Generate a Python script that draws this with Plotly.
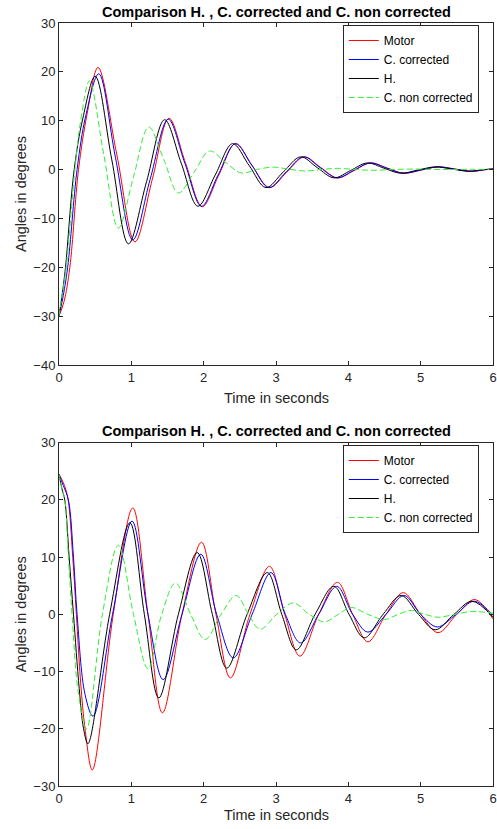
import plotly.graph_objects as go

# ---------------- Top panel data ----------------
top_motor_t = [0, 0.07, 0.15, 0.27, 0.39, 0.54, 0.80, 1.05, 1.29, 1.52, 1.75, 1.98, 2.21, 2.44, 2.67,
               2.91, 3.15, 3.39, 3.62, 3.85, 4.08, 4.31, 4.54, 4.77, 5.01, 5.25, 5.48, 5.71, 5.91, 6.0]
top_motor_y = [-30, -27, -20, 0, 11.5, 20.9, 3, -14.8, -2, 10.5, 1.3, -7.6, -1.1, 5.3, 0.8,
               -3.7, -0.5, 2.6, 0.4, -1.7, -0.2, 1.35, 0.3, -0.75, -0.1, 0.55, 0.1, -0.35, 0, 0.1]

top_corr_t = [0, 0.05, 0.12, 0.25, 0.37, 0.55, 0.78, 1.02, 1.26, 1.51, 1.74, 1.97, 2.20, 2.44, 2.67,
              2.90, 3.14, 3.38, 3.61, 3.84, 4.07, 4.30, 4.53, 4.76, 5.00, 5.24, 5.47, 5.70, 5.90, 6.0]
top_corr_y = [-30, -26.5, -20, 0, 11, 19.6, 2.5, -14.4, -2, 10.3, 1.3, -7.5, -1.1, 5.3, 0.8,
              -3.7, -0.5, 2.6, 0.4, -1.7, -0.2, 1.35, 0.3, -0.75, -0.1, 0.55, 0.1, -0.35, 0, 0.1]

top_h_t = [0, 0.04, 0.09, 0.21, 0.33, 0.50, 0.73, 0.96, 1.21, 1.46, 1.69, 1.92, 2.16, 2.40, 2.63,
           2.86, 3.10, 3.34, 3.57, 3.80, 4.03, 4.26, 4.49, 4.72, 4.96, 5.20, 5.43, 5.66, 5.88, 6.0]
top_h_y = [-30, -26, -20, 0, 10.5, 19.1, 2, -15.2, -2.5, 10.2, 1.3, -7.5, -1.1, 5.3, 0.8,
           -3.7, -0.5, 2.6, 0.4, -1.7, -0.2, 1.35, 0.3, -0.75, -0.1, 0.55, 0.1, -0.35, 0, 0.1]

top_nc_t = [0, 0.05, 0.10, 0.22, 0.30, 0.42, 0.62, 0.82, 1.03, 1.24, 1.45, 1.65, 1.87, 2.08, 2.30,
            2.52, 2.73, 2.95, 3.17, 3.40, 3.62, 3.85, 4.10, 4.35, 4.60, 4.90, 5.30, 5.70, 6.0]
top_nc_y = [-30, -25, -20, 0, 10, 18.1, 3, -12, -1.5, 8.7, 2, -4.8, -0.5, 3.8, 1.5,
            -0.7, 0, 0.5, 0.1, -0.3, 0, 0.25, 0, -0.15, 0, 0.1, 0, 0.05, 0]

# ---------------- Bottom panel data ----------------
bot_motor_t = [0, 0.06, 0.12, 0.19, 0.24, 0.30, 0.36, 0.46, 0.75, 1.02, 1.23, 1.43, 1.70, 1.97, 2.17,
               2.37, 2.64, 2.91, 3.12, 3.33, 3.59, 3.85, 4.06, 4.27, 4.52, 4.76, 5.00, 5.24, 5.50,
               5.75, 6.0]
bot_motor_y = [24.5, 23, 20.5, 10, 0, -12, -20, -27.2, 0, 18.6, 0, -17.2, 0, 12.6, 0,
               -11.1, 0, 8.4, 0, -7.3, 0, 5.6, 0, -4.8, 0, 3.8, 0, -3.2, 0,
               2.6, -0.8]

bot_corr_t = [0, 0.06, 0.13, 0.20, 0.25, 0.36, 0.47, 0.74, 1.01, 1.23, 1.44, 1.70, 1.96, 2.18,
              2.41, 2.67, 2.93, 3.13, 3.34, 3.59, 3.84, 4.06, 4.27, 4.52, 4.77, 5.00, 5.23, 5.49,
              5.74, 6.0]
bot_corr_y = [24.5, 22.5, 20, 10, 0, -14, -17.8, 0, 16.3, 0, -11.4, 0, 10.5, 0,
              -7.6, 0, 7.3, 0, -5.0, 0, 4.9, 0, -3.1, 0, 3.3, 0, -2.2, 0,
              2.3, -0.2]

bot_h_t = [0, 0.04, 0.08, 0.14, 0.20, 0.28, 0.34, 0.40, 0.70, 0.98, 1.18, 1.38, 1.65, 1.91, 2.12,
           2.32, 2.60, 2.88, 3.08, 3.28, 3.54, 3.80, 4.01, 4.22, 4.48, 4.73, 4.97, 5.20, 5.46,
           5.71, 6.0]
bot_h_y = [24.5, 22, 20, 10, 0, -13, -20, -22.6, 0, 16.0, 0, -14.6, 0, 10.8, 0,
           -9.4, 0, 7.3, 0, -6.2, 0, 4.9, 0, -4.1, 0, 3.3, 0, -2.7, 0,
           2.3, -0.5]

bot_nc_t = [0, 0.04, 0.08, 0.13, 0.18, 0.27, 0.38, 0.60, 0.82, 1.03, 1.23, 1.42, 1.61, 1.82, 2.02,
            2.24, 2.45, 2.62, 2.78, 3.01, 3.24, 3.46, 3.67, 3.86, 4.04, 4.27, 4.50, 4.69, 4.87,
            5.06, 5.24, 5.47, 5.70, 6.0]
bot_nc_y = [24.5, 22, 20, 10, 0, -14, -20.0, 0, 12.1, 0, -9.5, 0, 5.5, 0, -4.4,
            0, 3.3, 0, -2.6, 0, 2.0, 0, -1.3, 0, 1.2, 0, -0.9, 0, 0.7,
            0, -0.5, 0, 0.5, 0.2]

series_names = ["Motor", "C. corrected", "H.", "C. non corrected"]
x_ticks = [0, 1, 2, 3, 4, 5, 6]
top_y_ticks = [-40, -30, -20, -10, 0, 10, 20, 30]
bot_y_ticks = [-30, -20, -10, 0, 10, 20, 30]
title_text = "Comparison H. , C. corrected and C. non corrected"
x_label = "Time in seconds"
y_label = "Angles in degrees"

colors = ["#FF0000", "#0000FF", "#000000", "#33EE33"]
dashes = ["solid", "solid", "solid", "6px,3px"]

fig = go.Figure()

top_sets = [(top_motor_t, top_motor_y), (top_corr_t, top_corr_y), (top_h_t, top_h_y), (top_nc_t, top_nc_y)]
bot_sets = [(bot_motor_t, bot_motor_y), (bot_corr_t, bot_corr_y), (bot_h_t, bot_h_y), (bot_nc_t, bot_nc_y)]

for i, (t, y) in enumerate(top_sets):
    fig.add_trace(go.Scatter(x=t, y=y, mode="lines", name=series_names[i],
                             line=dict(color=colors[i], width=1, dash=dashes[i], shape="spline", smoothing=1.0),
                             xaxis="x", yaxis="y", legend="legend"))
for i, (t, y) in enumerate(bot_sets):
    fig.add_trace(go.Scatter(x=t, y=y, mode="lines", name=series_names[i],
                             line=dict(color=colors[i], width=1, dash=dashes[i], shape="spline", smoothing=1.0),
                             xaxis="x2", yaxis="y2", legend="legend2"))

axis_common = dict(showline=True, linecolor="#262626", linewidth=1, mirror="ticks",
                   ticks="inside", ticklen=4, tickcolor="#262626", tickwidth=1,
                   showgrid=False, zeroline=False, automargin=False,
                   tickfont=dict(family="Liberation Sans, Arial", size=13, color="#262626"))

fig.update_layout(
    width=497, height=829,
    margin=dict(l=59, r=4, t=23, b=43, autoexpand=False),
    paper_bgcolor="white", plot_bgcolor="white",
    xaxis=dict(domain=[0, 1], range=[0, 6], tickvals=x_ticks, anchor="y", **axis_common),
    yaxis=dict(domain=[0.5518, 1], range=[-40, 30], tickvals=top_y_ticks, anchor="x", **axis_common),
    xaxis2=dict(domain=[0, 1], range=[0, 6], tickvals=x_ticks, anchor="y2", **axis_common),
    yaxis2=dict(domain=[0, 0.4499], range=[-30, 30], tickvals=bot_y_ticks, anchor="x2", **axis_common),
    legend=dict(x=0.654, y=0.9974, xanchor="left", yanchor="top", bgcolor="white",
                bordercolor="#262626", borderwidth=1,
                font=dict(family="Liberation Sans, Arial", size=12, color="#000000")),
    legend2=dict(x=0.654, y=0.4469, xanchor="left", yanchor="top", bgcolor="white",
                 bordercolor="#262626", borderwidth=1,
                 font=dict(family="Liberation Sans, Arial", size=12, color="#000000")),
    showlegend=True,
)

font_lbl = dict(family="Liberation Sans, Arial", size=14.5, color="#262626")
font_ttl = dict(family="Liberation Sans, Arial", size=14.5, color="#000000")
annots = [
    dict(text="<b>" + title_text + "</b>", x=0.5, y=1.0144, font=font_ttl),
    dict(text="<b>" + title_text + "</b>", x=0.5, y=0.4653, font=font_ttl),
    dict(text=x_label, x=0.5, y=0.5085, font=font_lbl),
    dict(text=x_label, x=0.5, y=-0.038, font=font_lbl),
    dict(text=y_label, x=-0.0876, y=(0.5518 + 1) / 2, font=font_lbl, textangle=-90),
    dict(text=y_label, x=-0.0876, y=0.4499 / 2, font=font_lbl, textangle=-90),
]
for a in annots:
    fig.add_annotation(xref="paper", yref="paper", xanchor="center", yanchor="middle",
                       showarrow=False, **a)

fig.write_html("out.html", config={"displayModeBar": False},
               post_script="document.body.style.margin='0px';document.body.style.overflow='hidden';")
